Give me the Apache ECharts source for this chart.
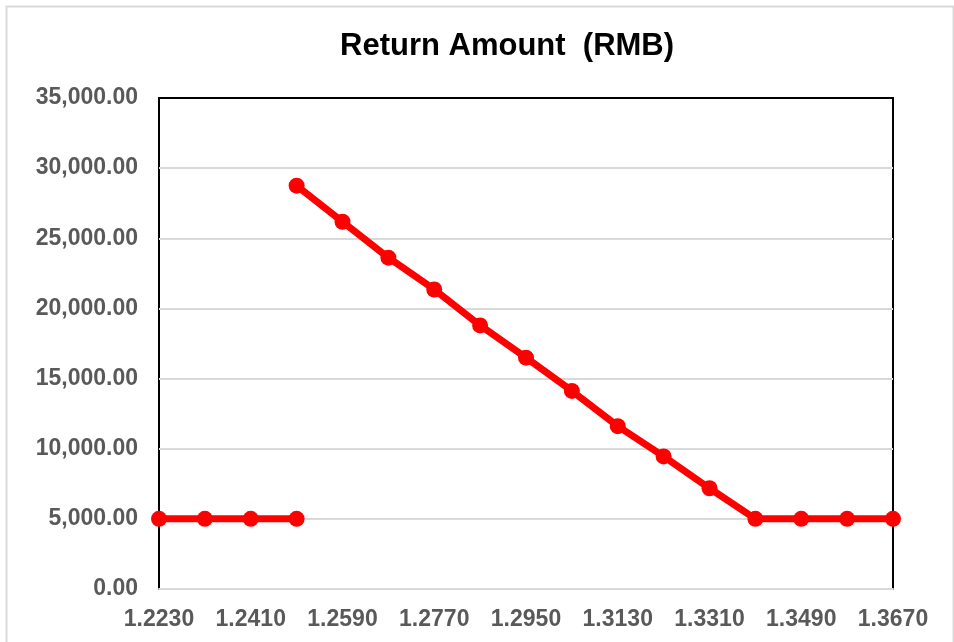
<!DOCTYPE html>
<html style="height: 100%">
   <head>
       <meta charset="utf-8">
   </head>
   <body style="height: 100%; margin: 0; background: #fff">
       <div id="container" style="width: 954px; height: 642px"></div>
       <script type="text/javascript" src="https://cdn.jsdelivr.net/npm/echarts@6/dist/echarts.min.js"></script>
       <script type="text/javascript">
// exchange rate points on the x axis
var rates = ['1.2230', '1.2320', '1.2410', '1.2500', '1.2590', '1.2680', '1.2770', '1.2860', '1.2950',
             '1.3040', '1.3130', '1.3220', '1.3310', '1.3400', '1.3490', '1.3580', '1.3670'];
// low flat part, before the jump
var lowPart = [5000, 5000, 5000, 5000, null, null, null, null, null, null, null, null, null, null, null, null, null];
// falling part, after the jump
var highPart = [null, null, null, 28750, 26180, 23620, 21350, 18790, 16490, 14120, 11610, 9450, 7180, 5000, 5000, 5000, 5000];

var dom = document.getElementById("container");
var myChart = echarts.init(dom);
var labelFont = { color: '#595959', fontSize: 23, fontWeight: 'bold', fontFamily: 'Liberation Sans' };

function lineSeries(data) {
    return {
        type: 'line',
        data: data,
        symbol: 'circle',
        symbolSize: 16,
        showAllSymbol: true,
        connectNulls: false,
        itemStyle: { color: '#ff0000' },
        lineStyle: { color: '#ff0000', width: 7 },
        animation: false
    };
}

var option = {
    animation: false,
    title: {
        text: 'Return Amount  (RMB)',
        left: 335,
        top: 26,
        textStyle: { color: '#000', fontSize: 31, fontWeight: 'bold', fontFamily: 'Liberation Sans' }
    },
    graphic: [{
        type: 'rect',
        left: 4, top: 4,
        shape: { width: 947, height: 660 },
        style: { fill: 'none', stroke: '#d9d9d9', lineWidth: 2 },
        silent: true
    }],
    grid: {
        left: 159, right: 61, top: 98, bottom: 53,
        show: true,
        borderColor: '#000',
        borderWidth: 2
    },
    xAxis: {
        type: 'category',
        data: rates,
        boundaryGap: false,
        axisLine: { lineStyle: { color: '#d9d9d9', width: 2 } },
        axisTick: { show: false },
        axisLabel: Object.assign({ interval: 1, margin: 19 }, labelFont),
        splitLine: { show: false }
    },
    yAxis: {
        type: 'value',
        min: 0, max: 35000, interval: 5000,
        axisLine: { show: false },
        axisTick: { show: false },
        axisLabel: Object.assign({
            margin: 21,
            formatter: function (v) {
                return v.toLocaleString('en-US', { minimumFractionDigits: 2, maximumFractionDigits: 2 });
            }
        }, labelFont),
        splitLine: { showMaxLine: false, lineStyle: { color: '#d9d9d9', width: 2 } }
    },
    series: [lineSeries(lowPart), lineSeries(highPart)]
};

myChart.setOption(option);
       </script>
   </body>
</html>
